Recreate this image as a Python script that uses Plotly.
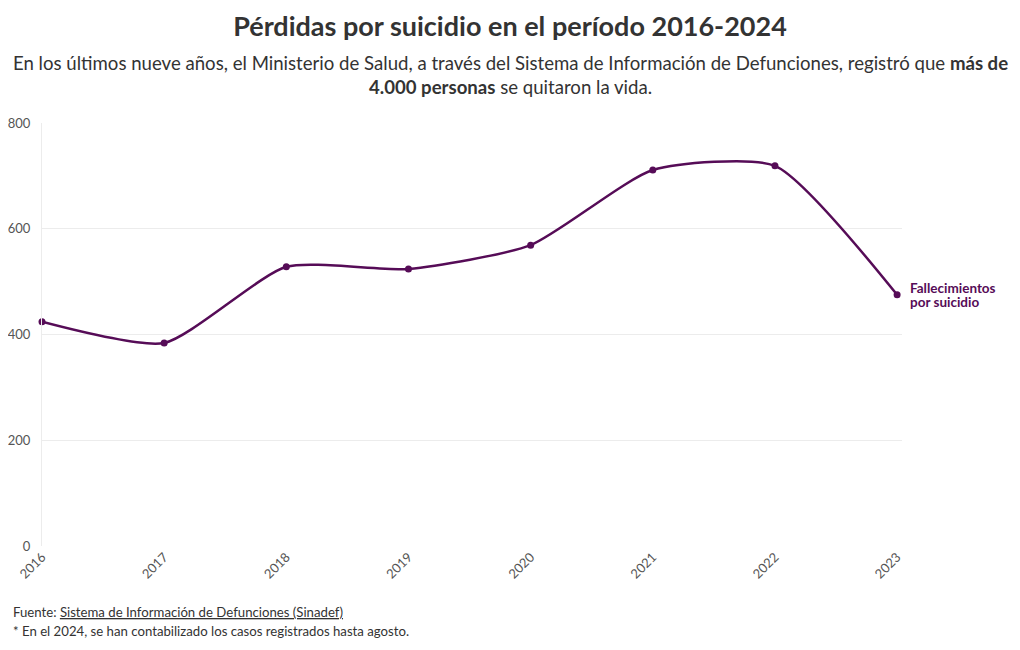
import plotly.graph_objects as go

years = [2016, 2017, 2018, 2019, 2020, 2021, 2022, 2023]
deaths = [424, 384, 528, 524, 569, 711, 719, 475]
y_ticks = [0, 200, 400, 600, 800]
label_lines = ["Fallecimientos", "por suicidio"]
footer_lines = [
    "Fuente: <u>Sistema de Información de Defunciones (Sinadef)</u>",
    "* En el 2024, se han contabilizado los casos registrados hasta agosto.",
]

color = "#560c57"
font_family = "Lato, 'Open Sans', sans-serif"

W, H = 1012, 642
ML, MR, MT, MB = 34, 118, 115, 104

fig = go.Figure()
fig.add_trace(go.Scatter(
    x=years, y=deaths, mode="lines+markers",
    line=dict(color=color, width=2.5, shape="spline", smoothing=0.6),
    marker=dict(color=color, size=7),
    cliponaxis=False, showlegend=False,
))

for i, line in enumerate(label_lines):
    fig.add_annotation(
        x=years[-1], y=deaths[-1], xref="x", yref="y",
        text="<b>" + line + "</b>", showarrow=False,
        xanchor="left", yanchor="middle", xshift=11, yshift=7 - 14 * i, align="left",
        font=dict(size=13.5, color=color, family=font_family),
    )

fig.update_layout(
    width=W, height=H,
    paper_bgcolor="white", plot_bgcolor="white",
    margin=dict(l=ML, r=MR, t=MT, b=MB),
    font=dict(family=font_family, color="#444"),
    title=dict(
        text="<b>Pérdidas por suicidio en el período 2016-2024</b>",
        x=502 / W, xanchor="center", y=1 - 19 / H, yanchor="middle",
        font=dict(size=27, color="#333", family=font_family),
    ),
    xaxis=dict(
        range=[2016, 2023.04], tickvals=years, ticktext=[str(y) for y in years],
        tickangle=-45, showgrid=False, zeroline=False, automargin=False,
        showline=False, tickfont=dict(size=13, color="#555"),
        ticks="",
    ),
    yaxis=dict(
        range=[0, 800], tickvals=y_ticks, showgrid=True, gridcolor="#ececec",
        zeroline=False, showline=True, linecolor="#ececec", linewidth=1,
        tickfont=dict(size=13, color="#555"), automargin=False,
        ticks="", ticklabelstandoff=8,
    ),
)

plot_center = ML + (W - ML - MR) / 2
fig.add_annotation(
    xref="paper", yref="paper", x=0.5, y=1.0, yshift=48.5,
    xanchor="center", yanchor="middle", showarrow=False,
    text="En los últimos nueve años, el Ministerio de Salud, a través del Sistema de Información de Defunciones, registró que <b>más de</b><br><b>4.000 personas</b> se quitaron la vida.",
    font=dict(size=18.6, color="#333", family=font_family), align="center",
    xshift=502 - plot_center,
)

for i, line in enumerate(footer_lines):
    fig.add_annotation(
        xref="paper", yref="paper", x=0, y=0, xshift=3 - ML, yshift=-(604 - (H - MB)) - 19 * i,
        xanchor="left", yanchor="middle", showarrow=False, align="left",
        text=line, font=dict(size=13.2, color="#333", family=font_family),
    )

fig.write_html("out.html")
